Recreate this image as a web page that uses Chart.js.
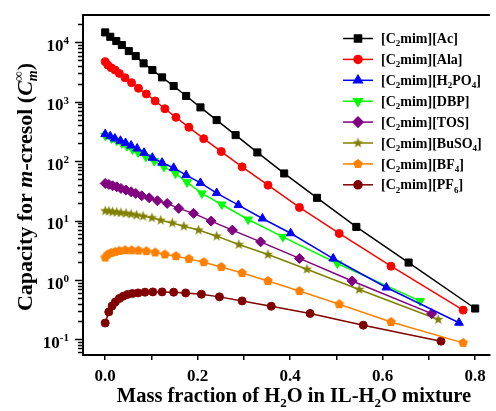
<!DOCTYPE html>
<html>
<head>
<meta charset="utf-8">
<script src="https://cdn.jsdelivr.net/npm/chart.js@4"></script>
<style>
  html, body { margin: 0; padding: 0; background: #fff; }
</style>
</head>
<body>
<canvas id="chart" width="496" height="411"></canvas>
<script>
// values (mass fraction of water, capacity)
const xAc = [0, 0.011, 0.024, 0.036, 0.051, 0.066, 0.083, 0.102, 0.123, 0.148, 0.175, 0.206, 0.241, 0.282, 0.329, 0.387, 0.458, 0.543, 0.656, 0.80];
const yAc = [14700, 12400, 10500, 9000, 7130, 5880, 4430, 3420, 2570, 1840, 1250, 803, 491, 274, 140, 62, 24.1, 7.8, 1.96, 0.33];

const xAla = [0, 0.0056, 0.0129, 0.0214, 0.0306, 0.043, 0.057, 0.072, 0.089, 0.108, 0.129, 0.153, 0.181, 0.213, 0.251, 0.296, 0.352, 0.42, 0.506, 0.618, 0.774];
const yAla = [4710, 4150, 3740, 3410, 3000, 2530, 2090, 1680, 1350, 1030, 762, 546, 370, 239, 145, 80, 39.4, 16.6, 6.05, 1.70, 0.31];

const xH2PO4 = [0, 0.011, 0.021, 0.033, 0.044, 0.056, 0.069, 0.084, 0.102, 0.123, 0.148, 0.175, 0.206, 0.241, 0.288, 0.340, 0.401, 0.493, 0.608, 0.765];
const yH2PO4 = [285, 262, 240, 220, 202, 183, 163, 138, 114, 94, 77, 58, 43, 29, 18.2, 10.8, 6.1, 2.29, 0.745, 0.19];

const xDBP = [0, 0.014, 0.025, 0.036, 0.047, 0.059, 0.071, 0.088, 0.106, 0.127, 0.152, 0.177, 0.209, 0.252, 0.309, 0.384, 0.502, 0.681];
const yDBP = [268, 241, 220, 199, 179, 157, 140, 118, 100, 80, 62, 44, 28.6, 18.6, 10.4, 5.3, 1.89, 0.44];

const xTOS = [0, 0.008, 0.016, 0.025, 0.034, 0.045, 0.056, 0.066, 0.079, 0.095, 0.113, 0.134, 0.159, 0.191, 0.229, 0.275, 0.336, 0.42, 0.534, 0.706];
const yTOS = [42.1, 40.5, 38.4, 36.9, 34.7, 32.5, 30.4, 28.6, 26.1, 24.1, 21.5, 19.4, 16.0, 13.2, 9.77, 6.89, 4.37, 2.30, 0.96, 0.27];

const xBuSO4 = [0, 0.008, 0.016, 0.025, 0.034, 0.045, 0.056, 0.068, 0.082, 0.101, 0.12, 0.145, 0.17, 0.202, 0.241, 0.289, 0.352, 0.436, 0.549, 0.72];
const yBuSO4 = [14.5, 14.4, 14.0, 13.8, 13.5, 13.2, 12.8, 12.3, 11.8, 11.1, 10.1, 9.1, 8.0, 6.9, 5.45, 3.94, 2.67, 1.51, 0.69, 0.215];

const xBF4 = [0, 0.0056, 0.0129, 0.0214, 0.0306, 0.043, 0.057, 0.072, 0.089, 0.108, 0.129, 0.153, 0.181, 0.213, 0.251, 0.296, 0.352, 0.42, 0.506, 0.618, 0.774];
const yBF4 = [2.38, 2.68, 2.85, 2.96, 3.08, 3.16, 3.16, 3.12, 3.05, 2.90, 2.68, 2.51, 2.26, 1.99, 1.65, 1.31, 0.96, 0.65, 0.39, 0.196, 0.087];

const xPF6 = [0, 0.0077, 0.015, 0.022, 0.0306, 0.039, 0.048, 0.059, 0.071, 0.086, 0.103, 0.123, 0.148, 0.174, 0.208, 0.247, 0.296, 0.359, 0.443, 0.558, 0.726];
const yPF6 = [0.188, 0.289, 0.365, 0.426, 0.486, 0.531, 0.568, 0.590, 0.604, 0.621, 0.628, 0.628, 0.621, 0.604, 0.574, 0.518, 0.443, 0.36, 0.272, 0.173, 0.093];

// legend names: _x = subscript
const seriesNames = ['[C_2mim][Ac]', '[C_2mim][Ala]', '[C_2mim][H_2PO_4]', '[C_2mim][DBP]', '[C_2mim][TOS]', '[C_2mim][BuSO_4]', '[C_2mim][BF_4]', '[C_2mim][PF_6]'];
const seriesX = [xAc, xAla, xH2PO4, xDBP, xTOS, xBuSO4, xBF4, xPF6];
const seriesY = [yAc, yAla, yH2PO4, yDBP, yTOS, yBuSO4, yBF4, yPF6];
const seriesColors = ['#000000', '#FF0000', '#0000FF', '#00FF00', '#800080', '#808000', '#FF8000', '#800000'];

// tick labels
const xTickValues = [0, 0.1, 0.2, 0.3, 0.4, 0.5, 0.6, 0.7, 0.8];
const xTickLabels = ['0.0', '', '0.2', '', '0.4', '', '0.6', '', '0.8'];
const yTickExps = [-1, 0, 1, 2, 3, 4];

const FONT = '"Liberation Serif", "Times New Roman", serif';

// filled star / pentagon markers
function polyMarker(color, n, rOut, rIn) {
  const c = document.createElement('canvas');
  const s = Math.ceil(rOut * 2 + 2);
  c.width = s; c.height = s;
  const g = c.getContext('2d');
  g.fillStyle = color;
  g.beginPath();
  const pts = rIn ? n * 2 : n;
  for (let i = 0; i < pts; i++) {
    const r = rIn && i % 2 ? rIn : rOut;
    const a = -Math.PI / 2 + i * 2 * Math.PI / pts;
    const px = s / 2 + r * Math.cos(a), py = s / 2 + r * Math.sin(a);
    if (i === 0) g.moveTo(px, py); else g.lineTo(px, py);
  }
  g.closePath();
  g.fill();
  return c;
}
const starMark = polyMarker('#808000', 5, 5.5, 2.3);
const pentMark = polyMarker('#FF8000', 5, 5, 0);

const pointStyles = ['rect', 'circle', 'triangle', 'triangle', 'rectRot', starMark, pentMark, 'circle'];
const pointRadii = [5, 4, 5, 5, 5, 5, 5, 4];
const pointRotations = [0, 0, 0, 180, 0, 0, 0, 0];

// simple rich text: _x sub, ^x or ^{..} sup, *..* italic
function parseRich(str) {
  const segs = [];
  let it = false;
  for (let i = 0; i < str.length; i++) {
    const c = str[i];
    if (c === '*') { it = !it; continue; }
    if (c === '_' || c === '^') {
      let t = str[i + 1]; i++;
      if (t === '{') { const j = str.indexOf('}', i); t = str.slice(i + 1, j); i = j; }
      segs.push({t, it, sub: c === '_', sup: c === '^'});
      continue;
    }
    const last = segs[segs.length - 1];
    if (last && !last.sub && !last.sup && last.it === it) last.t += c;
    else segs.push({t: c, it});
  }
  return segs;
}
function segFont(s, size) {
  const sz = (s.sub || s.sup) ? Math.round(size * 0.65) : size;
  return (s.it ? 'italic ' : '') + 'bold ' + sz + 'px ' + FONT;
}
function drawRich(ctx, str, x, y, size, align) {
  const segs = parseRich(str);
  const widths = segs.map(s => { ctx.font = segFont(s, size); return ctx.measureText(s.t).width; });
  const adv = segs.map((s, i) => {
    if (s.sub && segs[i + 1] && segs[i + 1].sup) return 0;
    if (s.sup && segs[i - 1] && segs[i - 1].sub) return Math.max(widths[i], widths[i - 1]);
    return widths[i];
  });
  const total = adv.reduce((a, b) => a + b, 0);
  let cx = align === 'center' ? x - total / 2 : align === 'right' ? x - total : x;
  ctx.textAlign = 'left';
  ctx.textBaseline = 'alphabetic';
  segs.forEach((s, i) => {
    ctx.font = segFont(s, size);
    const dy = s.sub ? size * 0.22 : s.sup ? -size * 0.4 : 0;
    ctx.fillText(s.t, cx, y + dy);
    cx += adv[i];
  });
}

// frame, y ticks, titles, legend
const decor = {
  id: 'decor',
  afterDraw(chart) {
    const ctx = chart.ctx;
    const area = chart.chartArea;
    const ys = chart.scales.y;
    ctx.save();
    ctx.strokeStyle = '#000';
    ctx.fillStyle = '#000';
    // top frame line
    ctx.lineWidth = 2;
    ctx.beginPath();
    ctx.moveTo(area.left - 1, area.top);
    ctx.lineTo(area.right, area.top);
    ctx.stroke();
    // log ticks on the y axis
    ctx.lineWidth = 1.5;
    for (let e = -2; e <= 4; e++) {
      for (let m = 1; m <= 9; m++) {
        const v = m * Math.pow(10, e);
        if (v < ys.min || v > ys.max) continue;
        const py = Math.round(ys.getPixelForValue(v)) + 0.5;
        const len = m === 1 ? 7 : 4;
        ctx.beginPath();
        ctx.moveTo(area.left - 1, py);
        ctx.lineTo(area.left - 1 - len, py);
        ctx.stroke();
      }
    }
    // y tick labels
    yTickExps.forEach(e => {
      const py = ys.getPixelForValue(Math.pow(10, e));
      drawRich(ctx, '10^{' + (e < 0 ? '-' + (-e) : e) + '}', 69, py + 3 + 17 * 0.33, 17, 'right');
    });
    // axis titles
    drawRich(ctx, 'Mass fraction of H_2O in IL-H_2O mixture', 294, 402, 20.5, 'center');
    ctx.save();
    ctx.translate(25, 187);
    ctx.rotate(-Math.PI / 2);
    drawRich(ctx, 'Capacity for *m*-cresol (*C_m*^∞)', 0, 7, 22, 'center');
    ctx.restore();
    // legend
    chart.data.datasets.forEach((ds, i) => {
      const ly = 38.5 + i * 20.9;
      ctx.strokeStyle = ds.borderColor;
      ctx.fillStyle = ds.borderColor;
      ctx.lineWidth = 1.5;
      ctx.beginPath();
      ctx.moveTo(343, ly);
      ctx.lineTo(373, ly);
      ctx.stroke();
      Chart.helpers.drawPoint(ctx, {pointStyle: ds.pointStyle, radius: ds.pointRadius, rotation: ds.pointRotation, borderWidth: 1}, 358, ly);
      ctx.fillStyle = '#000';
      drawRich(ctx, seriesNames[i], 381, ly + 14 * 0.33, 14, 'left');
    });
    ctx.restore();
  }
};

const datasets = seriesNames.map((name, i) => ({
  label: name,
  data: seriesX[i].map((x, j) => ({x: x, y: seriesY[i][j]})),
  borderColor: seriesColors[i],
  backgroundColor: seriesColors[i],
  borderWidth: 1.5,
  pointStyle: pointStyles[i],
  pointRadius: pointRadii[i],
  pointRotation: pointRotations[i],
  pointBorderWidth: 1,
  tension: 0
}));

new Chart(document.getElementById('chart'), {
  type: 'line',
  data: { datasets: datasets },
  options: {
    responsive: false,
    animation: false,
    events: [],
    layout: { padding: { top: 15, right: 2, left: 0, bottom: 0 } },
    plugins: { legend: { display: false }, tooltip: { enabled: false } },
    scales: {
      x: {
        type: 'linear',
        min: -0.048,
        max: 0.832,
        afterFit: s => { s.height = 56; },
        afterBuildTicks: s => { s.ticks = xTickValues.map(v => ({value: v})); },
        ticks: {
          callback: (v, i) => xTickLabels[i],
          font: { family: FONT, size: 17, weight: 'bold' },
          color: '#000',
          padding: 6,
          maxRotation: 0,
          autoSkip: false
        },
        grid: { display: true, drawOnChartArea: false, tickLength: 5, color: '#000', lineWidth: 1.5 },
        border: { display: true, color: '#000', width: 2 }
      },
      y: {
        type: 'logarithmic',
        min: 0.0544,
        max: 28850,
        afterFit: s => { s.width = 83; },
        ticks: { display: false },
        grid: { display: false },
        border: { display: true, color: '#000', width: 2 }
      }
    }
  },
  plugins: [decor]
});
</script>
</body>
</html>
